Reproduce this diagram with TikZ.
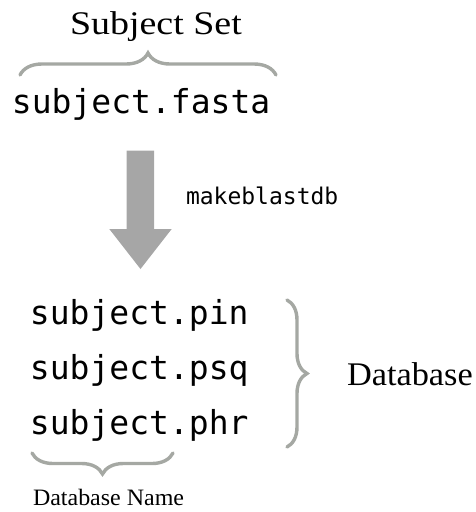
\documentclass[tikz,border=0pt]{standalone}
\usepackage{fontspec}
\usepackage{graphicx}
\setmainfont{Liberation Serif}
\setmonofont{DejaVu Sans Mono}
\usetikzlibrary{decorations.pathreplacing}
\definecolor{bracegray}{RGB}{165,168,163}
\definecolor{arrowgray}{RGB}{166,166,166}
\begin{document}
\begin{tikzpicture}[x=1pt,y=-1pt,
  lbl/.style={anchor=base west,inner sep=0pt,outer sep=0pt,text=black},
  monobig/.style={lbl,font=\fontsize{33}{36}\selectfont\ttfamily},
  monosmall/.style={lbl,font=\fontsize{23}{26}\selectfont\ttfamily},
  serifbig/.style={lbl,font=\fontsize{33}{36}\selectfont},
  serifsmall/.style={lbl,font=\fontsize{23.5}{26}\selectfont},
  curly/.style={draw=bracegray,line width=3.4pt,line cap=round,
    decorate,decoration={brace,amplitude=#1}}]
\useasboundingbox (0,0) rectangle (476,512);
% texts
\node[serifbig] (subjset) at (70,34) {\scalebox{1.15}[1]{Subject Set}};
\node[monobig] (fasta) at (12,113) {subject.fasta};
\node[monosmall] (mkdb) at (186,204) {makeblastdb};
\node[monobig] (pin) at (30,324) {subject.pin};
\node[monobig] (psq) at (30,379) {subject.psq};
\node[monobig] (phr) at (30,434) {subject.phr};
\node[serifbig] (db) at (347,385) {\scalebox{1.04}[1]{Database}};
\node[serifsmall] (dbname) at (33,505) {\scalebox{1.02}[1]{Database Name}};
% brace end points
\coordinate (tb1) at (20,75);
\coordinate (tb2) at (276,75);
\coordinate (rb1) at (287,300);
\coordinate (rb2) at (287,447);
\coordinate (bb1) at (173,453);
\coordinate (bb2) at (32,453);
\draw[curly=22pt] (tb1) -- (tb2);
\draw[curly=20pt] (rb1) -- (rb2);
\draw[curly=21pt] (bb1) -- (bb2);
% block arrow
\coordinate (a1) at (126.7,150.7);
\coordinate (a2) at (154,150.7);
\coordinate (a3) at (154,229);
\coordinate (a4) at (171.7,229);
\coordinate (a5) at (140.5,269);
\coordinate (a6) at (109.3,229);
\coordinate (a7) at (126.7,229);
\fill[arrowgray] (a1) -- (a2) -- (a3) -- (a4) -- (a5) -- (a6) -- (a7) -- cycle;
\end{tikzpicture}
\end{document}
